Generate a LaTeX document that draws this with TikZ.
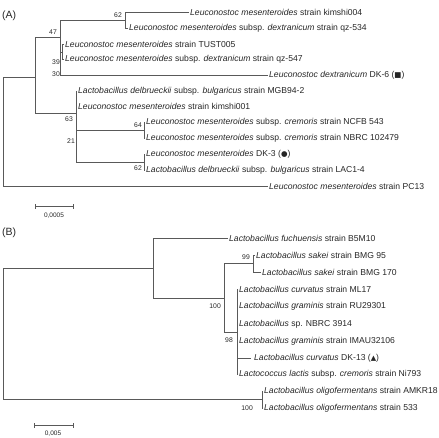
\documentclass[tikz,border=0pt]{standalone}
\usepackage{fontspec}
\setmainfont{Liberation Sans}
\newfontfamily\symfnt{DejaVu Sans}
\begin{document}
\begin{tikzpicture}[x=1pt,y=-1pt,
  br/.style={draw=black!65, line width=0.7pt},
  leaf/.style={anchor=west, inner sep=1pt, text=black!85, font=\fontsize{8.6}{10}\selectfont},
  bs/.style={anchor=east, inner sep=0pt, text=black!85, font=\fontsize{6.8}{8}\selectfont},
  panel/.style={anchor=west, inner sep=0pt, text=black!85, font=\fontsize{10.5}{12}\selectfont},
  scl/.style={inner sep=0pt, text=black!85, font=\fontsize{6.5}{8}\selectfont}]
\useasboundingbox (0,0) rectangle (439,437);
\node[panel] (pA) at (2,16) {(A)};
\node[panel] (pB) at (2,233) {(B)};
% ---------------- Tree A ----------------
\coordinate (rA) at (3,131);
\coordinate (a1) at (35,77);
\coordinate (a47) at (60,37);
\coordinate (a62) at (125,20);
\coordinate (a39) at (62,52);
\coordinate (a63) at (76,113);
\coordinate (a21) at (76,146);
\coordinate (a64) at (144,130);
\coordinate (a62b) at (144,162);
\node[leaf] (k004) at (189,12) {\textit{Leuconostoc mesenteroides} strain kimshi004};
\node[leaf] (qz534) at (128,28) {\textit{Leuconostoc mesenteroides} subsp. \textit{dextranicum} strain qz-534};
\node[leaf] (tust) at (64,44) {\textit{Leuconostoc mesenteroides} strain TUST005};
\node[leaf] (qz547) at (64,59) {\textit{Leuconostoc mesenteroides} subsp. \textit{dextranicum} strain qz-547};
\node[leaf] (dk6) at (268,75) {\textit{Leuconostoc dextranicum} DK-6 ({\symfnt\fontsize{7.5}{9}\selectfont ■})};
\node[leaf] (mgb) at (77,91) {\textit{Lactobacillus delbrueckii} subsp. \textit{bulgaricus} strain MGB94-2};
\node[leaf] (k001) at (77,106) {\textit{Leuconostoc mesenteroides} strain kimshi001};
\node[leaf] (ncfb) at (145,122) {\textit{Leuconostoc mesenteroides} subsp. \textit{cremoris} strain NCFB 543};
\node[leaf] (nbrc) at (145,138) {\textit{Leuconostoc mesenteroides} subsp. \textit{cremoris} strain NBRC 102479};
\node[leaf] (dk3) at (145,154) {\textit{Leuconostoc mesenteroides} DK-3 ({\symfnt\fontsize{7.5}{9}\selectfont ●})};
\node[leaf] (lac) at (145,170) {\textit{Lactobacillus delbrueckii} subsp. \textit{bulgaricus} strain LAC1-4};
\node[leaf] (pc13) at (268,186) {\textit{Leuconostoc mesenteroides} strain PC13};
\draw[br] (rA) |- (a1);
\draw[br] (rA) |- (pc13.west);
\draw[br] (a1) |- (a47);
\draw[br] (a1) |- (a63);
\draw[br] (a47) |- (a62);
\draw[br] (a47) |- (a39);
\draw[br] (a47) |- (dk6.west);
\draw[br] (a62) |- (k004.west);
\draw[br] (a62) |- (qz534.west);
\draw[br] (a39) |- (tust.west);
\draw[br] (a39) |- (qz547.west);
\draw[br] (a63) |- (mgb.west);
\draw[br] (a63) |- (k001.west);
\draw[br] (a63) |- (a21);
\draw[br] (a21) |- (a64);
\draw[br] (a21) |- (a62b);
\draw[br] (a64) |- (ncfb.west);
\draw[br] (a64) |- (nbrc.west);
\draw[br] (a62b) |- (dk3.west);
\draw[br] (a62b) |- (lac.west);
\node[bs] (bA1) at (122,15) {62};
\node[bs] (bA2) at (57,32) {47};
\node[bs] (bA3) at (60,62) {39};
\node[bs] (bA4) at (60,74) {30};
\node[bs] (bA5) at (73,119) {63};
\node[bs] (bA6) at (75,141) {21};
\node[bs] (bA7) at (142,125) {64};
\node[bs] (bA8) at (142,168) {62};
% scale A
\coordinate (sA1) at (35,206);
\coordinate (sA2) at (73,206);
\draw[br] (sA1) -- (sA2);
\draw[br] ([yshift=-2.5pt]sA1) -- ([yshift=2.5pt]sA1);
\draw[br] ([yshift=-2.5pt]sA2) -- ([yshift=2.5pt]sA2);
\node[scl] (lA) at (54,216) {0,0005};
% ---------------- Tree B ----------------
\coordinate (rB) at (3,333);
\coordinate (b1) at (153,268);
\coordinate (b100) at (224,298);
\coordinate (b99) at (253,263);
\coordinate (b98) at (237,332);
\coordinate (b100b) at (262,399);
\node[leaf] (fuch) at (228,238) {\textit{Lactobacillus fuchuensis} strain B5M10};
\node[leaf] (bmg95) at (255,255) {\textit{Lactobacillus sakei} strain BMG 95};
\node[leaf] (bmg170) at (261,272) {\textit{Lactobacillus sakei} strain BMG 170};
\node[leaf] (ml17) at (238,289) {\textit{Lactobacillus curvatus} strain ML17};
\node[leaf] (ru) at (238,306) {\textit{Lactobacillus graminis} strain RU29301};
\node[leaf] (nb3914) at (238,324) {\textit{Lactobacillus} sp. NBRC 3914};
\node[leaf] (imau) at (238,341) {\textit{Lactobacillus graminis} strain IMAU32106};
\node[leaf, inner xsep=3pt] (dk13) at (251,358) {\textit{Lactobacillus curvatus} DK-13 ({\symfnt\fontsize{7}{9}\selectfont ▲})};
\node[leaf] (ni793) at (238,374) {\textit{Lactococcus lactis} subsp. \textit{cremoris} strain Ni793};
\node[leaf] (amkr) at (263,391) {\textit{Lactobacillus oligofermentans} strain AMKR18};
\node[leaf] (s533) at (263,408) {\textit{Lactobacillus oligofermentans} strain 533};
\draw[br] (rB) |- (b1);
\draw[br] (rB) |- (b100b);
\draw[br] (b1) |- (fuch.west);
\draw[br] (b1) |- (b100);
\draw[br] (b100) |- (b99);
\draw[br] (b100) |- (b98);
\draw[br] (b99) |- (bmg95.west);
\draw[br] (b99) |- (bmg170.west);
\draw[br] (b98) |- (ml17.west);
\draw[br] (b98) |- (ru.west);
\draw[br] (b98) |- (nb3914.west);
\draw[br] (b98) |- (imau.west);
\draw[br] (b98) |- (dk13.west);
\draw[br] (b98) |- (ni793.west);
\draw[br] (b100b) |- (amkr.west);
\draw[br] (b100b) |- (s533.west);
\node[bs] (bB1) at (250,257) {99};
\node[bs] (bB2) at (221,306) {100};
\node[bs] (bB3) at (233,340) {98};
\node[bs] (bB4) at (253,408) {100};
% scale B
\coordinate (sB1) at (34,425);
\coordinate (sB2) at (73,425);
\draw[br] (sB1) -- (sB2);
\draw[br] ([yshift=-2.5pt]sB1) -- ([yshift=2.5pt]sB1);
\draw[br] ([yshift=-2.5pt]sB2) -- ([yshift=2.5pt]sB2);
\node[scl] (lB) at (53,434) {0,005};
\end{tikzpicture}
\end{document}
